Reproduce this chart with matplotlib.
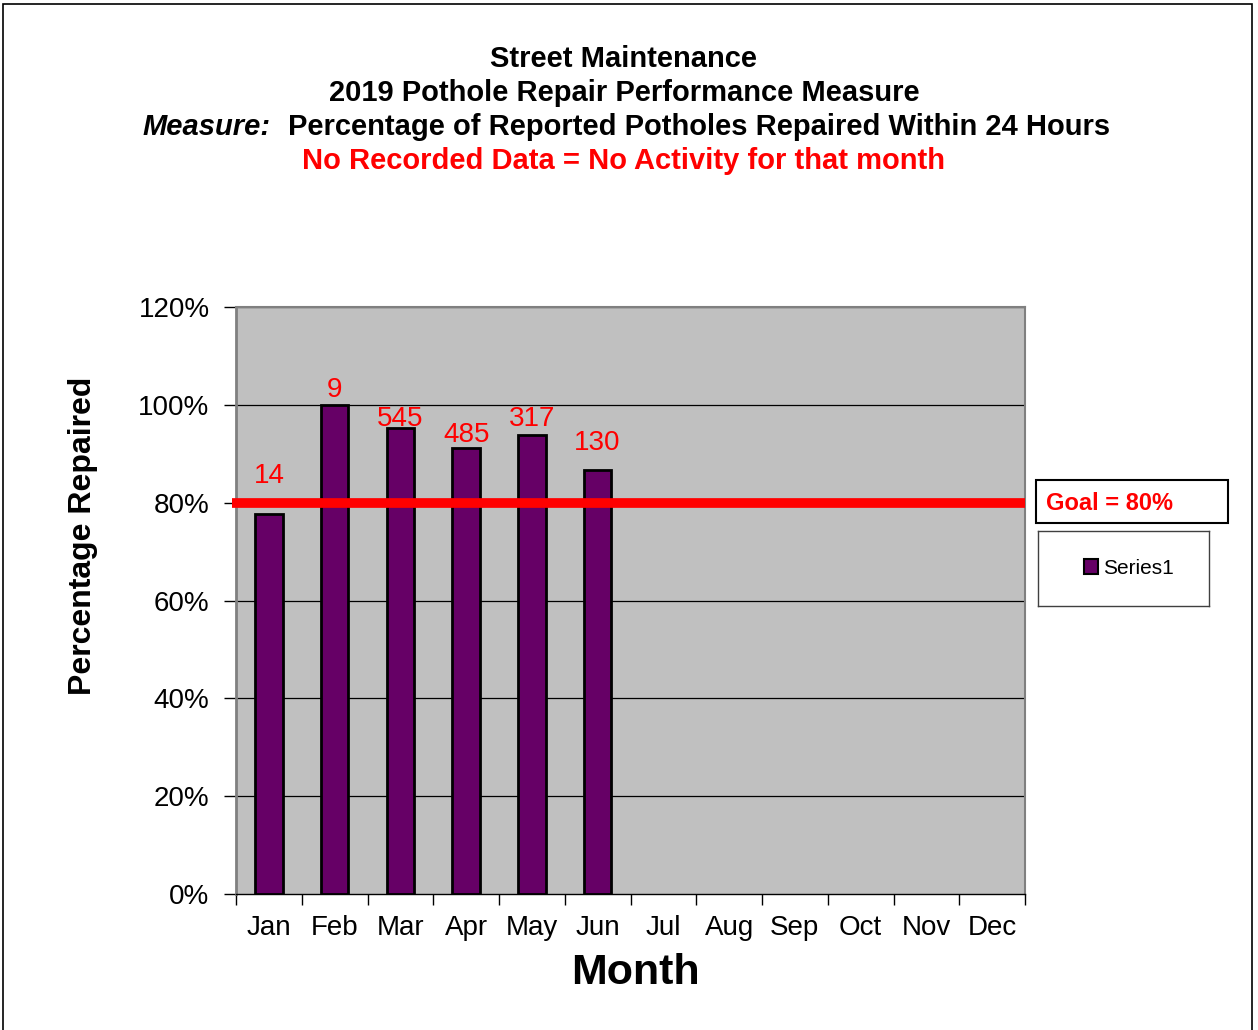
import matplotlib
matplotlib.use("Agg")
import matplotlib.pyplot as plt
from matplotlib.patches import Rectangle, Patch
from matplotlib.ticker import FuncFormatter
import numpy as np

months = ["Jan", "Feb", "Mar", "Apr", "May", "Jun", "Jul", "Aug", "Sep", "Oct", "Nov", "Dec"]
pct_repaired = [77.7, 100.0, 95.3, 91.2, 93.9, 86.7]
pothole_counts = ["14", "9", "545", "485", "317", "130"]
goal = 80
y_ticks = [0, 20, 40, 60, 80, 100, 120]

# label placement (style): vertical offsets in points above each bar
label_offsets_pt = [18, 1, -3, 0, 2, 10]

plt.rcParams['font.family'] = ['Liberation Sans', 'DejaVu Sans']

W, H = 1258, 1030
fig = plt.figure(figsize=(W / 100, H / 100), dpi=100)

# outer frame
fig.patches.append(Rectangle((3 / W, -0.01), (1252 - 3) / W, 1.01 - 4 / H,
                             transform=fig.transFigure, fill=False, edgecolor='black',
                             linewidth=1.2, zorder=0))

left, right, top, bottom = 236, 1025, 307, 894
ax = fig.add_axes([left / W, 1 - bottom / H, (right - left) / W, (bottom - top) / H])
ax.set_facecolor('#c0c0c0')

x = np.arange(len(months))
ax.set_xlim(-0.5, len(months) - 0.5)
ax.set_ylim(0, 120)

for yv in y_ticks[1:]:
    ax.axhline(yv, color='black', linewidth=0.9, zorder=1)

ax.bar(x[:len(pct_repaired)], pct_repaired, width=0.42, color='#660066',
       edgecolor='black', linewidth=2, zorder=3)

for xi, v, lab, off in zip(x, pct_repaired, pothole_counts, label_offsets_pt):
    ax.annotate(lab, (xi, v), xytext=(0, off), textcoords='offset points',
                ha='center', va='bottom', color='red', fontsize=20, zorder=5)

ax.plot([-0.56, len(months) - 0.5], [goal, goal], color='red', linewidth=7,
        solid_capstyle='butt', zorder=4, clip_on=False)

ax.set_yticks(y_ticks)
ax.yaxis.set_major_formatter(FuncFormatter(lambda v, p: f"{int(v)}%"))
ax.set_xticks(np.arange(-0.5, len(months), 1.0), minor=False)
ax.set_xticklabels([])
ax.set_xticks(x, minor=True)
ax.set_xticklabels(months, minor=True)
ax.tick_params(axis='x', which='major', length=8, width=1, color='black', direction='out')
ax.tick_params(axis='x', which='minor', length=0, labelsize=20, pad=15)
ax.tick_params(axis='y', length=9, width=1, labelsize=20, pad=10)

for s in ['top', 'right']:
    ax.spines[s].set_color('#808080')
    ax.spines[s].set_linewidth(1.5)
ax.spines['left'].set_color('#808080')
ax.spines['left'].set_linewidth(2)
ax.spines['bottom'].set_color('black')
ax.spines['bottom'].set_linewidth(1)

fig.text(83 / W, 1 - 536 / H, "Percentage Repaired", rotation=90, ha='center', va='center',
         fontsize=23, fontweight='bold')
fig.text(635 / W, 1 - 973 / H, "Month", ha='center', va='center', fontsize=31, fontweight='bold')

# titles
fs = 21
fig.text(624 / W, 1 - 59 / H, "Street Maintenance", ha='center', va='center', fontsize=fs, fontweight='bold')
fig.text(624 / W, 1 - 93 / H, "2019 Pothole Repair Performance Measure", ha='center', va='center', fontsize=fs, fontweight='bold')
fig.text(142 / W, 1 - 127 / H, "Measure:", ha='left', va='center', fontsize=fs,
         fontweight='bold', fontstyle='italic')
fig.text(1110 / W, 1 - 127 / H, "Percentage of Reported Potholes Repaired Within 24 Hours",
         ha='right', va='center', fontsize=fs, fontweight='bold')
fig.text(624 / W, 1 - 161 / H, "No Recorded Data = No Activity for that month", ha='center',
         va='center', fontsize=fs, fontweight='bold', color='red')

# goal box
fig.patches.append(Rectangle((1036 / W, 1 - 523 / H), (1228 - 1036) / W, (523 - 480) / H,
                             transform=fig.transFigure, facecolor='white', edgecolor='black',
                             linewidth=1.5, zorder=5))
fig.text(1046 / W, 1 - 504 / H, f"Goal = {goal}%", ha='left', va='center', fontsize=17,
         fontweight='bold', color='red', zorder=6)

# legend
leg_ax = fig.add_axes([1038 / W, 1 - 606 / H, (1209 - 1038) / W, (606 - 531) / H])
leg_ax.set_xticks([]); leg_ax.set_yticks([])
for s in leg_ax.spines.values():
    s.set_color('#404040'); s.set_linewidth(1)
leg_ax.legend(handles=[Patch(facecolor='#660066', edgecolor='black', linewidth=1.5, label='Series1')],
              loc='center', bbox_to_anchor=(0.53, 0.5), frameon=False, fontsize=15,
              handlelength=0.7, handleheight=0.7, handletextpad=0.2)

fig.savefig("out.png", dpi=100)
